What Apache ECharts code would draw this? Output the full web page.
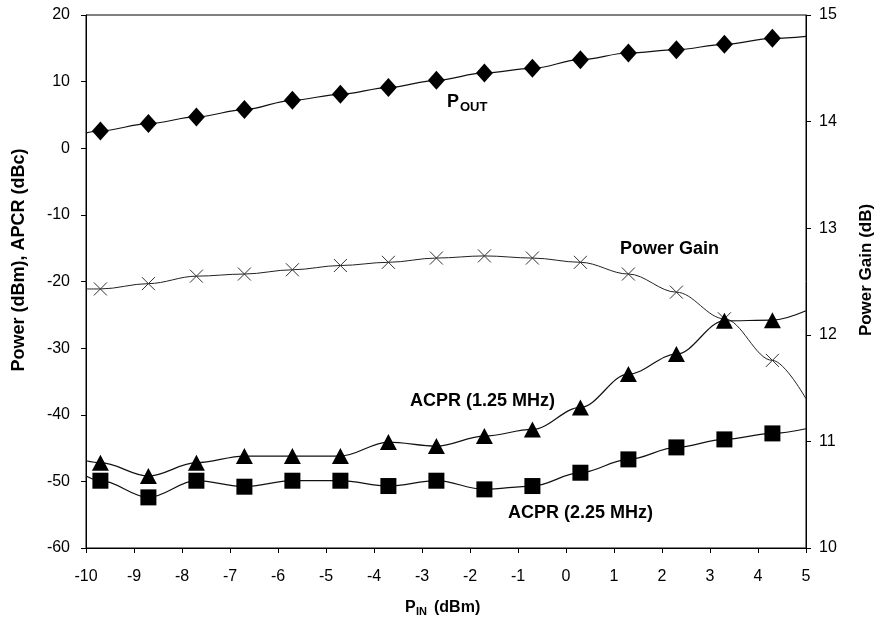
<!DOCTYPE html>
<html>
<head>
<meta charset="utf-8">
<script src="https://cdn.jsdelivr.net/npm/echarts@6/dist/echarts.min.js"></script>
<style>
  html, body { margin: 0; padding: 0; background: #fff; }
  #chart { width: 878px; height: 631px; }
</style>
</head>
<body>
<div id="chart"></div>
<script>
"use strict";
// input power (dBm) at each measured point
var pin = [-9.7, -8.7, -7.7, -6.7, -5.7, -4.7, -3.7, -2.7, -1.7, -0.7, 0.3, 1.3, 2.3, 3.3, 4.3];
var pout = [2.6, 3.7, 4.7, 5.8, 7.2, 8.1, 9.1, 10.2, 11.3, 12.0, 13.3, 14.3, 14.8, 15.6, 16.5];
var gain = [12.43, 12.48, 12.55, 12.57, 12.61, 12.65, 12.68, 12.72, 12.74, 12.72, 12.68, 12.57, 12.40, 12.15, 11.76];
var acpr125 = [-47.2, -49.2, -47.2, -46.2, -46.2, -46.2, -44.1, -44.7, -43.2, -42.2, -38.9, -33.9, -30.9, -25.9, -25.8];
var acpr225 = [-49.9, -52.4, -49.9, -50.8, -49.9, -49.9, -50.7, -49.9, -51.2, -50.7, -48.7, -46.7, -44.9, -43.7, -42.8];
// where each curve meets the frame edges (x = -10 and x = 5), no marker there
var edgeX = [-10, 5];
var poutEdge = [2.3, 16.8];
var gainEdge = [12.43, 11.4];
var acpr125Edge = [-46.9, -24.4];
var acpr225Edge = [-49.2, -42.1];

var xTicks = [-10, 5, 1];      // min, max, step
var yLeftTicks = [-60, 20, 10];
var yRightTicks = [10, 15, 1];

var FONT = '"Liberation Sans", Arial, sans-serif';

var buildData = function(ys, edge){
	var out = [{value: [edgeX[0], edge[0]], symbol: 'none'}];
	pin.forEach(function(x, i){
		out.push([x, ys[i]]);
	});
	out.push({value: [edgeX[1], edge[1]], symbol: 'none'});
	return out;
};

var lineSeries = function(name, ys, edge, yIdx, symbol, size, extra){
	var s = {
		name: name,
		type: 'line',
		yAxisIndex: yIdx,
		data: buildData(ys, edge),
		smooth: 0.35,
		smoothMonotone: 'x',
		symbol: symbol,
		symbolSize: size,
		lineStyle: {color: '#111', width: 1.2},
		itemStyle: {color: '#000'},
		emphasis: {disabled: true},
		z: 3
	};
	return Object.assign(s, extra || {});
};

var txt = function(x, y, text, size, extra){
	return Object.assign({
		type: 'text', x: x, y: y, z: 10,
		style: {text: text, fill: '#000', font: 'bold ' + size + 'px ' + FONT, textVerticalAlign: 'middle'}
	}, extra || {});
};

// rotated axis title, centred on (x, y)
var vtxt = function(x, y, text, size){
	return {
		type: 'text', x: x, y: y, z: 10, rotation: Math.PI / 2,
		style: {text: text, fill: '#000', font: 'bold ' + size + 'px ' + FONT, textAlign: 'center', textVerticalAlign: 'middle'}
	};
};

var axisCommon = function(margin){
	return {
		axisLine: {show: true, onZero: false, lineStyle: {color: '#000'}},
		axisTick: {show: true, length: 5, lineStyle: {color: '#000'}},
		axisLabel: {color: '#000', fontFamily: FONT, fontSize: 16, margin: margin},
		splitLine: {show: false}
	};
};

var chart = echarts.init(document.getElementById('chart'));
chart.setOption({
	animation: false,
	backgroundColor: '#fff',
	grid: {left: 86, right: 72, top: 15, bottom: 83, show: true, borderColor: '#000', borderWidth: 1},
	xAxis: Object.assign({
		type: 'value', min: xTicks[0], max: xTicks[1], interval: xTicks[2]
	}, axisCommon(21)),
	yAxis: [
		Object.assign({type: 'value', min: yLeftTicks[0], max: yLeftTicks[1], interval: yLeftTicks[2]}, axisCommon(16)),
		Object.assign({type: 'value', position: 'right', min: yRightTicks[0], max: yRightTicks[1], interval: yRightTicks[2]}, axisCommon(13))
	],
	series: [
		lineSeries('Power Gain', gain, gainEdge, 1, 'path://M0,0L10,10M10,0L0,10', 13, {
			itemStyle: {color: '#000', borderColor: '#333', borderWidth: 1},
			lineStyle: {color: '#222', width: 1}
		}),
		lineSeries('POUT', pout, poutEdge, 0, 'diamond', [17, 19]),
		lineSeries('ACPR (1.25 MHz)', acpr125, acpr125Edge, 0, 'triangle', [17, 16]),
		lineSeries('ACPR (2.25 MHz)', acpr225, acpr225Edge, 0, 'rect', 16)
	],
	graphic: [
		vtxt(19, 260, 'Power (dBm), APCR (dBc)', 18),
		vtxt(866, 270, 'Power Gain (dB)', 17),
		txt(447, 102, 'P', 18),
		txt(460, 107, 'OUT', 13),
		txt(620, 249, 'Power Gain', 18),
		txt(410, 401, 'ACPR (1.25 MHz)', 18),
		txt(508, 513, 'ACPR (2.25 MHz)', 18),
		txt(405, 608, 'P', 16),
		txt(416, 612, 'IN', 11),
		txt(434, 608, '(dBm)', 16)
	]
});
</script>
</body>
</html>
